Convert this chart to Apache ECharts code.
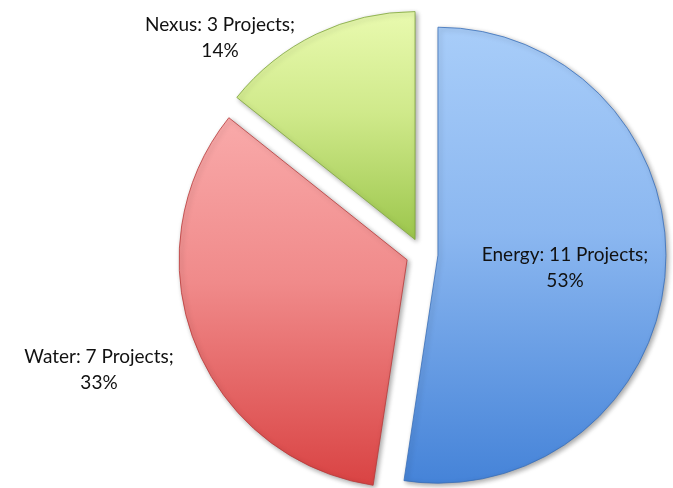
<!DOCTYPE html>
<html>
<head>
<meta charset="utf-8">
<script src="https://cdn.jsdelivr.net/npm/echarts@6/dist/echarts.min.js"></script>
<style>
html, body { margin: 0; padding: 0; background: #fff; }
#pieChart { width: 673px; height: 488px; }
</style>
</head>
<body>
<div id="pieChart"></div>
<script>
var categories = ['Energy', 'Water', 'Nexus'];
var projects = [11, 7, 3];
var topColors = ['#a8cdf9', '#f9aaaa', '#e9faaf'];
var midColors = ['#8bb7f0', '#f08a8a', '#cfe98a'];
var bottomColors = ['#4583d8', '#d94343', '#9cc64c'];
var edgeColors = ['#3a6fb8', '#b83a3a', '#7ea43c'];
// label anchor points (centre of text block)
var labelPos = [[565, 268], [99, 370], [220, 38]];

var byId = function(id) {
	return document.getElementById(id);
};

// whole-number percentages that add up to 100 (largest remainder)
var getPercents = function(values) {
	var total = values.reduce(function(a, b) { return a + b; }, 0);
	var raw = values.map(function(v) { return v / total * 100; });
	var seats = raw.map(function(r) { return Math.floor(r); });
	var left = 100 - seats.reduce(function(a, b) { return a + b; }, 0);
	var order = raw.map(function(r, i) { return i; }).sort(function(a, b) {
		return (raw[b] - seats[b]) - (raw[a] - seats[a]);
	});
	for (var k = 0; k < left; k++) {
		seats[order[k]] += 1;
	}
	return seats;
};

var getOption = function() {
	var percents = getPercents(projects);
	var items = categories.map(function(name, i) {
		return {
			name: name,
			value: projects[i],
			selected: true,
			itemStyle: {
				color: new echarts.graphic.LinearGradient(0, 0, 0, 1, [
					{ offset: 0, color: topColors[i] },
					{ offset: 0.45, color: midColors[i] },
					{ offset: 1, color: bottomColors[i] }
				]),
				borderColor: edgeColors[i],
				borderWidth: 0.8
			}
		};
	});
	var labels = categories.map(function(name, i) {
		return {
			type: 'text',
			x: labelPos[i][0],
			y: labelPos[i][1],
			z: 10,
			style: {
				text: name + ': ' + projects[i] + ' Projects;\n' + percents[i] + '%',
				fontFamily: 'Lato',
				fontSize: 19,
				lineHeight: 26,
				fill: '#111',
				align: 'center',
				verticalAlign: 'middle'
			}
		};
	});
	return {
		animation: false,
		graphic: labels,
		series: [{
			type: 'pie',
			center: [422, 254],
			radius: 228,
			startAngle: 90,
			clockwise: true,
			selectedMode: 'multiple',
			selectedOffset: 16,
			emphasis: { disabled: true },
			itemStyle: {
				shadowBlur: 5,
				shadowColor: 'rgba(0,0,0,0.35)',
				shadowOffsetX: 2,
				shadowOffsetY: 2
			},
			label: { show: false },
			labelLine: { show: false },
			data: items
		}]
	};
};

var pieChart = echarts.init(byId('pieChart'));
pieChart.setOption(getOption());
</script>
</body>
</html>
